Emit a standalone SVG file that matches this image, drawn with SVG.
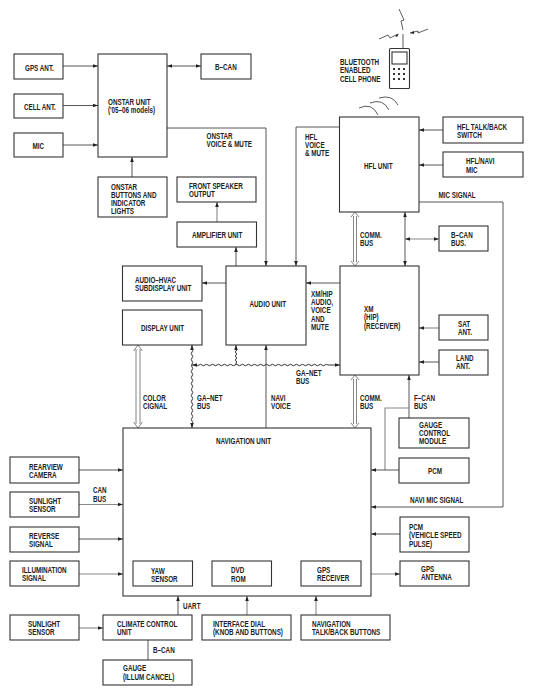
<svg xmlns="http://www.w3.org/2000/svg" width="533" height="695" viewBox="0 0 533 695">
<style>
text{font-family:"Liberation Sans",Arial,sans-serif;font-size:8.200px;font-weight:bold;fill:#222;transform-box:fill-box;transform-origin:0 50%;transform:scaleX(.77)}
rect{fill:#fff;stroke:#333;stroke-width:1.1}
.c path,.c line{fill:none;stroke:#444;stroke-width:.9}
.g{stroke:#888!important;stroke-width:1.1!important}
.w{stroke-width:1!important;stroke:#333!important}
.d{stroke-dasharray:2 1.5;stroke:#666!important}
.p{stroke:#777!important;stroke-width:.9!important}
.a{marker-end:url(#a)}
.b{marker-start:url(#s);marker-end:url(#a)}
.ph{fill:none;stroke:#333;stroke-width:.8}
</style>
<defs>
<marker id="a" markerUnits="userSpaceOnUse" markerWidth="6" markerHeight="6" refX="5" refY="3" orient="auto"><path d="M0 1.200L5 3L0 4.800z" fill="#222"/></marker>
<marker id="s" markerUnits="userSpaceOnUse" markerWidth="6" markerHeight="6" refX="0" refY="3" orient="auto"><path d="M5 1.200L0 3L5 4.800z" fill="#222"/></marker>
</defs>
<g id="connectors" class="c">
<line class="a" x1="63" y1="66" x2="98" y2="66"/>
<line class="a" x1="63" y1="105.500" x2="98" y2="105.500"/>
<line class="a" x1="63" y1="145" x2="98" y2="145"/>
<line class="b" x1="167" y1="66" x2="201" y2="66"/>
<path class="a" d="M167 128H266V266"/>
<path class="a" d="M339 127H296V266"/>
<line class="a" x1="132" y1="177" x2="132" y2="157"/>
<line class="a g" x1="217" y1="222" x2="217" y2="202"/>
<line class="a" x1="236" y1="266" x2="236" y2="247"/>
<line class="a" x1="226" y1="283" x2="202" y2="283"/>
<line class="a" x1="340" y1="283" x2="306" y2="283"/>
<path class="p" d="M353.500 216V262M356.500 216V262M351 217L355 212L359 217M351 261L355 266L359 261"/>
<path class="p" d="M353.500 379V424M356.500 379V424M351 380L355 375L359 380M351 423L355 428L359 423"/>
<path class="p" d="M136 349V424M140 349V424M133.500 351L138 345L142.500 351M133.500 422L138 428L142.500 422"/>
<line class="b" x1="405" y1="212" x2="405" y2="266"/>
<line class="b g" x1="405" y1="239" x2="439" y2="239"/>
<line class="a" x1="266" y1="428" x2="266" y2="345"/>
<path class="w" marker-start="url(#s)" marker-end="url(#a)" d="M192 345V349q1.500 1.500 0 3t0 3t0 3t0 3t0 3t0 3t0 3t0 3t0 3t0 3t0 3t0 3t0 3t0 3t0 3t0 3t0 3t0 3t0 3t0 3t0 3t0 3t0 3t0 3t0 3V428"/>
<path class="w" marker-start="url(#s)" marker-end="url(#a)" d="M192 365H196q1.500 1.500 3 0t3 0t3 0t3 0t3 0t3 0t3 0t3 0t3 0t3 0t3 0t3 0t3 0t3 0t3 0t3 0t3 0t3 0t3 0t3 0t3 0t3 0t3 0t3 0t3 0t3 0t3 0t3 0t3 0t3 0t3 0t3 0t3 0t3 0t3 0t3 0t3 0t3 0t3 0t3 0t3 0t3 0t3 0t3 0H340"/>
<path class="w" marker-start="url(#s)" d="M236 345V349q1.500 1 0 2t0 2t0 2t0 2t0 2t0 2t0 2V365"/>
<line class="a" x1="409" y1="418" x2="409" y2="375"/>
<path class="g" d="M409 408H385V470"/>
<line class="a" x1="399" y1="470" x2="371" y2="470"/>
<path class="a" d="M413 202H503V507H371"/>
<path class="d" d="M419 165H404V202H413"/>
<line class="a" x1="443" y1="130" x2="419" y2="130"/>
<line class="a" x1="443" y1="165" x2="419" y2="165"/>
<line class="a g" x1="439" y1="328" x2="419" y2="328"/>
<line class="a" x1="439" y1="362" x2="419" y2="362"/>
<line class="a" x1="400" y1="534" x2="371" y2="534"/>
<line class="b g" x1="361" y1="574" x2="400" y2="574"/>
<line class="a" x1="79" y1="470" x2="123" y2="470"/>
<line class="a g" x1="79" y1="504.500" x2="123" y2="504.500"/>
<line class="a" x1="79" y1="539" x2="123" y2="539"/>
<line class="a g" x1="79" y1="574" x2="123" y2="574"/>
<line class="a g" x1="79" y1="628" x2="103" y2="628"/>
<line class="a" x1="178" y1="615" x2="178" y2="596"/>
<line class="a g" x1="247" y1="615" x2="247" y2="596"/>
<line class="a g" x1="316" y1="615" x2="316" y2="596"/>
<line x1="148" y1="640" x2="148" y2="660"/>
</g>
<g id="phone">
<rect x="389.500" y="48.500" width="20" height="40" rx="1"/>
<rect x="392" y="52" width="15" height="12"/>
<path class="ph" d="M403 34V48M399 9L404 20L401 21L403 30M379 39L388 35L390 38L398 34M428 29L418 33L418 31L410 33"/>
<path d="M395 36L399 33.500L397 37zM410 33L414 31L414 34z" fill="#222"/>
<path fill="#333" d="M393 68h2v2h-2zM398 68h2v2h-2zM403 68h2v2h-2zM393 73h2v2h-2zM398 73h2v2h-2zM403 73h2v2h-2zM393 78h2v2h-2zM398 78h2v2h-2zM403 78h2v2h-2z"/>
<path class="ph" d="M359 108Q372 102 378 115M370 103Q383 98 389 110M379 98Q392 94 398 105"/>
<text x="340" y="65">BLUETOOTH</text><text x="340" y="73">ENABLED</text><text x="340" y="82">CELL PHONE</text>
</g>
<g id="gps-ant"><rect x="14" y="54" width="49" height="25"/><text x="25" y="71">GPS ANT.</text></g>
<g id="cell-ant"><rect x="14" y="94" width="49" height="24"/><text x="24" y="110.500">CELL ANT.</text></g>
<g id="mic"><rect x="14" y="133" width="49" height="24"/><text x="32.500" y="149">MIC</text></g>
<g id="onstar"><rect x="98" y="54" width="69" height="103"/><text x="108" y="105">ONSTAR UNIT</text><text x="108" y="113">('05–06 models)</text></g>
<g id="b-can"><rect x="201" y="54" width="50" height="25"/><text x="215" y="70">B–CAN</text></g>
<g id="onstar-buttons"><rect x="98" y="177" width="69" height="40"/><text x="111" y="190">ONSTAR</text><text x="111" y="198">BUTTONS AND</text><text x="111" y="206">INDICATOR</text><text x="111" y="214">LIGHTS</text></g>
<g id="front-speaker"><rect x="177" y="177" width="79" height="25"/><text x="189" y="189">FRONT SPEAKER</text><text x="189" y="197">OUTPUT</text></g>
<g id="amplifier"><rect x="177" y="222" width="79.500" height="25"/><text x="192" y="238">AMPLIFIER UNIT</text></g>
<g id="audio-hvac"><rect x="122.500" y="266" width="79.500" height="35"/><text x="135" y="283">AUDIO–HVAC</text><text x="135" y="291">SUBDISPLAY UNIT</text></g>
<g id="display"><rect x="122.500" y="310" width="79.500" height="35"/><text x="141" y="331">DISPLAY UNIT</text></g>
<g id="audio"><rect x="226" y="266" width="80" height="79"/><text x="249.500" y="307">AUDIO UNIT</text></g>
<g id="xm"><rect x="340" y="266" width="79" height="109"/><text x="364" y="312">XM</text><text x="364" y="320">(HIP)</text><text x="364" y="329">(RECEIVER)</text></g>
<g id="hfl"><rect x="339.500" y="117" width="79.500" height="95"/><text x="364" y="169">HFL UNIT</text></g>
<g id="hfl-talk"><rect x="443" y="117" width="80" height="26"/><text x="457" y="130">HFL TALK/BACK</text><text x="457" y="138">SWITCH</text></g>
<g id="hfl-mic"><rect x="443" y="152" width="80" height="25"/><text x="466" y="164">HFL/NAVI</text><text x="466" y="173">MIC</text></g>
<g id="b-can-bus"><rect x="439" y="226" width="49" height="25"/><text x="451" y="238">B–CAN</text><text x="451" y="246">BUS.</text></g>
<g id="sat-ant"><rect x="439" y="315" width="49" height="25"/><text x="458" y="327">SAT</text><text x="458" y="335">ANT.</text></g>
<g id="land-ant"><rect x="439" y="350" width="49" height="25"/><text x="456" y="361">LAND</text><text x="456" y="369">ANT.</text></g>
<g id="gauge-control"><rect x="399" y="418" width="70" height="30"/><text x="419" y="428">GAUGE</text><text x="419" y="436">CONTROL</text><text x="419" y="444">MODULE</text></g>
<g id="pcm"><rect x="399" y="458" width="70" height="25"/><text x="428" y="474">PCM</text></g>
<g id="navigation"><rect x="123" y="428" width="248" height="168"/><text x="216" y="444">NAVIGATION UNIT</text></g>
<g id="rearview"><rect x="10" y="457" width="69" height="26"/><text x="29" y="470">REARVIEW</text><text x="29" y="478">CAMERA</text></g>
<g id="sunlight-1"><rect x="10" y="492" width="69" height="25"/><text x="29" y="504">SUNLIGHT</text><text x="29" y="512">SENSOR</text></g>
<g id="reverse"><rect x="10" y="527" width="69" height="25"/><text x="29" y="539">REVERSE</text><text x="29" y="547">SIGNAL</text></g>
<g id="illumination"><rect x="10" y="561" width="69" height="25"/><text x="22" y="573">ILLUMINATION</text><text x="22" y="581">SIGNAL</text></g>
<g id="yaw"><rect x="133" y="561" width="59.500" height="25"/><text x="151" y="574">YAW</text><text x="151" y="582">SENSOR</text></g>
<g id="dvd"><rect x="212" y="561" width="59.500" height="25"/><text x="231" y="573">DVD</text><text x="231" y="582">ROM</text></g>
<g id="gps-receiver"><rect x="301" y="561" width="60" height="25"/><text x="317" y="573">GPS</text><text x="317" y="581">RECEIVER</text></g>
<g id="pcm-speed"><rect x="400" y="517" width="69" height="35"/><text x="409" y="530">PCM</text><text x="409" y="538">(VEHICLE SPEED</text><text x="409" y="547">PULSE)</text></g>
<g id="gps-antenna"><rect x="400" y="561" width="69" height="25"/><text x="421" y="572">GPS</text><text x="421" y="580">ANTENNA</text></g>
<g id="sunlight-2"><rect x="10" y="615" width="69" height="25"/><text x="28" y="627">SUNLIGHT</text><text x="28" y="635">SENSOR</text></g>
<g id="climate"><rect x="103" y="615" width="89" height="25"/><text x="117" y="627">CLIMATE CONTROL</text><text x="117" y="635">UNIT</text></g>
<g id="interface"><rect x="202" y="615" width="89" height="25"/><text x="213" y="627">INTERFACE DIAL</text><text x="213" y="635">(KNOB AND BUTTONS)</text></g>
<g id="nav-talk"><rect x="301" y="615" width="89" height="25"/><text x="312" y="627">NAVIGATION</text><text x="312" y="635">TALK/BACK BUTTONS</text></g>
<g id="gauge"><rect x="103" y="660" width="89" height="25"/><text x="123" y="671">GAUGE</text><text x="123" y="680">(ILLUM CANCEL)</text></g>
<g id="labels">
<text x="206.500" y="139">ONSTAR</text><text x="206.500" y="147">VOICE &amp; MUTE</text>
<text x="305" y="140">HFL</text><text x="305" y="148">VOICE</text><text x="305" y="156">&amp; MUTE</text>
<text x="438.500" y="198">MIC SIGNAL</text>
<text x="360" y="238">COMM.</text><text x="360" y="246">BUS</text>
<text x="311" y="297">XM/HIP</text><text x="311" y="305">AUDIO,</text><text x="311" y="313">VOICE</text><text x="311" y="322">AND</text><text x="311" y="330">MUTE</text>
<text x="296" y="376">GA–NET</text><text x="296" y="384">BUS</text>
<text x="143" y="401">COLOR</text><text x="143" y="409">CIGNAL</text>
<text x="197" y="401">GA–NET</text><text x="197" y="409">BUS</text>
<text x="271" y="401">NAVI</text><text x="271" y="409">VOICE</text>
<text x="360" y="401">COMM.</text><text x="360" y="409">BUS</text>
<text x="414" y="401">F–CAN</text><text x="414" y="409">BUS</text>
<text x="410" y="503">NAVI MIC SIGNAL</text>
<text x="93" y="493">CAN</text><text x="93" y="502">BUS</text>
<text x="183" y="609">UART</text>
<text x="153" y="653">B–CAN</text>
</g>
</svg>
